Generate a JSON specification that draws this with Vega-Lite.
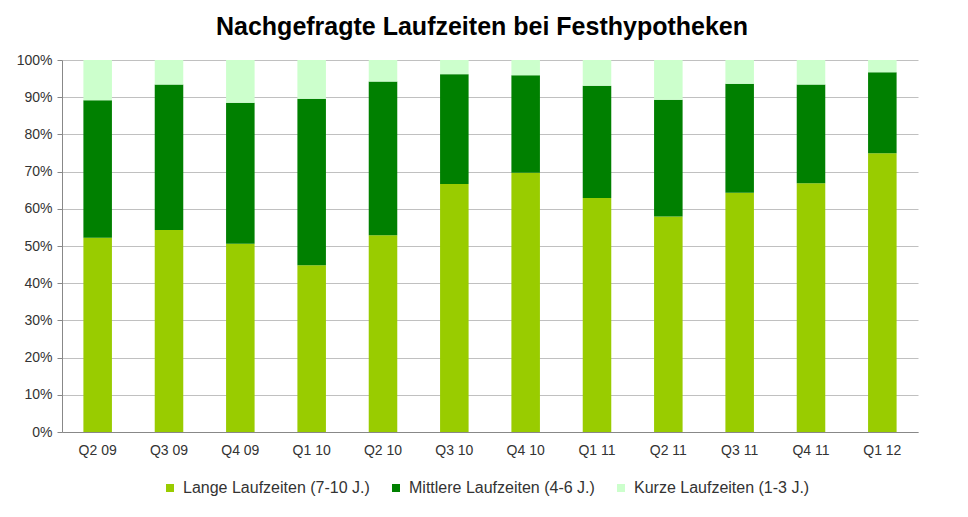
{
  "$schema": "https://vega.github.io/schema/vega-lite/v6.json",
  "width": 856,
  "height": 372,
  "autosize": {"type": "none"},
  "padding": {"left": 62, "top": 60, "right": 50, "bottom": 85},
  "background": "white",
  "title": {
    "text": "Nachgefragte Laufzeiten bei Festhypotheken",
    "font": "Liberation Sans",
    "fontSize": 25,
    "fontWeight": "bold",
    "color": "#000000",
    "anchor": "middle",
    "dx": -8,
    "offset": 13
  },
  "data": {
    "values": [
      {"quartal": "Q2 09", "serie": "Lange Laufzeiten (7-10 J.)", "ord": 1, "wert": 52.2},
      {"quartal": "Q2 09", "serie": "Mittlere Laufzeiten (4-6 J.)", "ord": 2, "wert": 37.0},
      {"quartal": "Q2 09", "serie": "Kurze Laufzeiten (1-3 J.)", "ord": 3, "wert": 10.8},
      {"quartal": "Q3 09", "serie": "Lange Laufzeiten (7-10 J.)", "ord": 1, "wert": 54.3},
      {"quartal": "Q3 09", "serie": "Mittlere Laufzeiten (4-6 J.)", "ord": 2, "wert": 39.1},
      {"quartal": "Q3 09", "serie": "Kurze Laufzeiten (1-3 J.)", "ord": 3, "wert": 6.6},
      {"quartal": "Q4 09", "serie": "Lange Laufzeiten (7-10 J.)", "ord": 1, "wert": 50.6},
      {"quartal": "Q4 09", "serie": "Mittlere Laufzeiten (4-6 J.)", "ord": 2, "wert": 37.9},
      {"quartal": "Q4 09", "serie": "Kurze Laufzeiten (1-3 J.)", "ord": 3, "wert": 11.5},
      {"quartal": "Q1 10", "serie": "Lange Laufzeiten (7-10 J.)", "ord": 1, "wert": 44.8},
      {"quartal": "Q1 10", "serie": "Mittlere Laufzeiten (4-6 J.)", "ord": 2, "wert": 44.8},
      {"quartal": "Q1 10", "serie": "Kurze Laufzeiten (1-3 J.)", "ord": 3, "wert": 10.4},
      {"quartal": "Q2 10", "serie": "Lange Laufzeiten (7-10 J.)", "ord": 1, "wert": 52.9},
      {"quartal": "Q2 10", "serie": "Mittlere Laufzeiten (4-6 J.)", "ord": 2, "wert": 41.3},
      {"quartal": "Q2 10", "serie": "Kurze Laufzeiten (1-3 J.)", "ord": 3, "wert": 5.8},
      {"quartal": "Q3 10", "serie": "Lange Laufzeiten (7-10 J.)", "ord": 1, "wert": 66.7},
      {"quartal": "Q3 10", "serie": "Mittlere Laufzeiten (4-6 J.)", "ord": 2, "wert": 29.5},
      {"quartal": "Q3 10", "serie": "Kurze Laufzeiten (1-3 J.)", "ord": 3, "wert": 3.8},
      {"quartal": "Q4 10", "serie": "Lange Laufzeiten (7-10 J.)", "ord": 1, "wert": 69.7},
      {"quartal": "Q4 10", "serie": "Mittlere Laufzeiten (4-6 J.)", "ord": 2, "wert": 26.2},
      {"quartal": "Q4 10", "serie": "Kurze Laufzeiten (1-3 J.)", "ord": 3, "wert": 4.1},
      {"quartal": "Q1 11", "serie": "Lange Laufzeiten (7-10 J.)", "ord": 1, "wert": 62.9},
      {"quartal": "Q1 11", "serie": "Mittlere Laufzeiten (4-6 J.)", "ord": 2, "wert": 30.2},
      {"quartal": "Q1 11", "serie": "Kurze Laufzeiten (1-3 J.)", "ord": 3, "wert": 6.9},
      {"quartal": "Q2 11", "serie": "Lange Laufzeiten (7-10 J.)", "ord": 1, "wert": 57.9},
      {"quartal": "Q2 11", "serie": "Mittlere Laufzeiten (4-6 J.)", "ord": 2, "wert": 31.4},
      {"quartal": "Q2 11", "serie": "Kurze Laufzeiten (1-3 J.)", "ord": 3, "wert": 10.7},
      {"quartal": "Q3 11", "serie": "Lange Laufzeiten (7-10 J.)", "ord": 1, "wert": 64.3},
      {"quartal": "Q3 11", "serie": "Mittlere Laufzeiten (4-6 J.)", "ord": 2, "wert": 29.3},
      {"quartal": "Q3 11", "serie": "Kurze Laufzeiten (1-3 J.)", "ord": 3, "wert": 6.4},
      {"quartal": "Q4 11", "serie": "Lange Laufzeiten (7-10 J.)", "ord": 1, "wert": 66.9},
      {"quartal": "Q4 11", "serie": "Mittlere Laufzeiten (4-6 J.)", "ord": 2, "wert": 26.5},
      {"quartal": "Q4 11", "serie": "Kurze Laufzeiten (1-3 J.)", "ord": 3, "wert": 6.6},
      {"quartal": "Q1 12", "serie": "Lange Laufzeiten (7-10 J.)", "ord": 1, "wert": 74.9},
      {"quartal": "Q1 12", "serie": "Mittlere Laufzeiten (4-6 J.)", "ord": 2, "wert": 21.8},
      {"quartal": "Q1 12", "serie": "Kurze Laufzeiten (1-3 J.)", "ord": 3, "wert": 3.3}
    ]
  },
  "mark": {"type": "bar"},
  "encoding": {
    "x": {
      "field": "quartal",
      "type": "nominal",
      "sort": null,
      "scale": {"paddingInner": 0.6, "paddingOuter": 0.3},
      "axis": {
        "title": null,
        "labelAngle": 0,
        "labelFont": "Liberation Sans",
        "labelFontSize": 14,
        "labelColor": "#333333",
        "labelPadding": 11,
        "ticks": false,
        "domainColor": "#888888",
        "grid": false
      }
    },
    "y": {
      "field": "wert",
      "type": "quantitative",
      "stack": "normalize",
      "scale": {"domain": [0, 1]},
      "axis": {
        "title": null,
        "format": ".0%",
        "values": [0, 0.1, 0.2, 0.3, 0.4, 0.5, 0.6, 0.7, 0.8, 0.9, 1],
        "labelFont": "Liberation Sans",
        "labelFontSize": 14,
        "labelColor": "#333333",
        "labelPadding": 5,
        "tickSize": 5,
        "tickColor": "#888888",
        "domainColor": "#888888",
        "gridColor": "#c0c0c0",
        "grid": true
      }
    },
    "color": {
      "field": "serie",
      "type": "nominal",
      "scale": {
        "domain": ["Lange Laufzeiten (7-10 J.)", "Mittlere Laufzeiten (4-6 J.)", "Kurze Laufzeiten (1-3 J.)"],
        "range": ["#99cc00", "#008000", "#ccffcc"]
      },
      "legend": {
        "title": null,
        "orient": "none",
        "direction": "horizontal",
        "legendX": 100,
        "legendY": 420,
        "symbolType": "square",
        "symbolSize": 64,
        "symbolStrokeWidth": 0,
        "labelFont": "Liberation Sans",
        "labelFontSize": 16,
        "labelLimit": 0,
        "labelColor": "#333333",
        "labelOffset": 5,
        "columnPadding": 18
      }
    },
    "order": {"field": "ord", "type": "quantitative"}
  },
  "config": {
    "view": {"stroke": null}
  }
}
